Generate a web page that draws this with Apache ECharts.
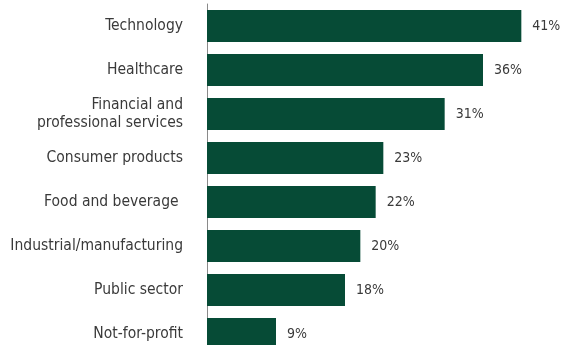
<!DOCTYPE html>
<html>
<head>
<meta charset="utf-8">
<script src="https://cdn.jsdelivr.net/npm/echarts@6/dist/echarts.min.js"></script>
<style>
  html, body { margin: 0; padding: 0; background: #ffffff; }
  #chart { width: 567px; height: 345px; }
</style>
</head>
<body>
<div id="chart"></div>
<script>
// Sectors, top to bottom
const categories = [
  'Technology',
  'Healthcare',
  'Financial and\nprofessional services',
  'Consumer products',
  'Food and beverage ',
  'Industrial/manufacturing',
  'Public sector',
  'Not-for-profit'
];
// Share of respondents, percent
const shares = [41, 36, 31, 23, 22, 20, 18, 9];

const FONT = '"Liberation Sans Narrow", "DejaVu Sans Condensed", "Liberation Sans", sans-serif';
const TEXT = '#3a3a3a';
const GREEN = '#064b36';

const chart = echarts.init(document.getElementById('chart'), null, { renderer: 'canvas' });
chart.setOption({
  animation: false,
  backgroundColor: '#ffffff',
  grid: {
    left: 207, right: 15, top: 4, height: 352,
    containLabel: false,
    outerBoundsMode: 'none'
  },
  xAxis: {
    type: 'value',
    min: 0,
    max: 45,
    show: false
  },
  yAxis: {
    type: 'category',
    data: categories,
    inverse: true,
    axisTick: { show: false },
    axisLine: { show: true, lineStyle: { color: '#8a8a8a', width: 1 } },
    axisLabel: {
      margin: 24,
      fontFamily: FONT,
      fontSize: 15.5,
      lineHeight: 18,
      color: TEXT,
      align: 'right'
    }
  },
  series: [{
    type: 'bar',
    data: shares,
    barCategoryGap: '27%',
    itemStyle: { color: GREEN },
    label: {
      show: true,
      position: 'right',
      distance: 11,
      formatter: '{c}%',
      fontFamily: FONT,
      fontSize: 14,
      color: TEXT
    }
  }]
});
</script>
</body>
</html>
